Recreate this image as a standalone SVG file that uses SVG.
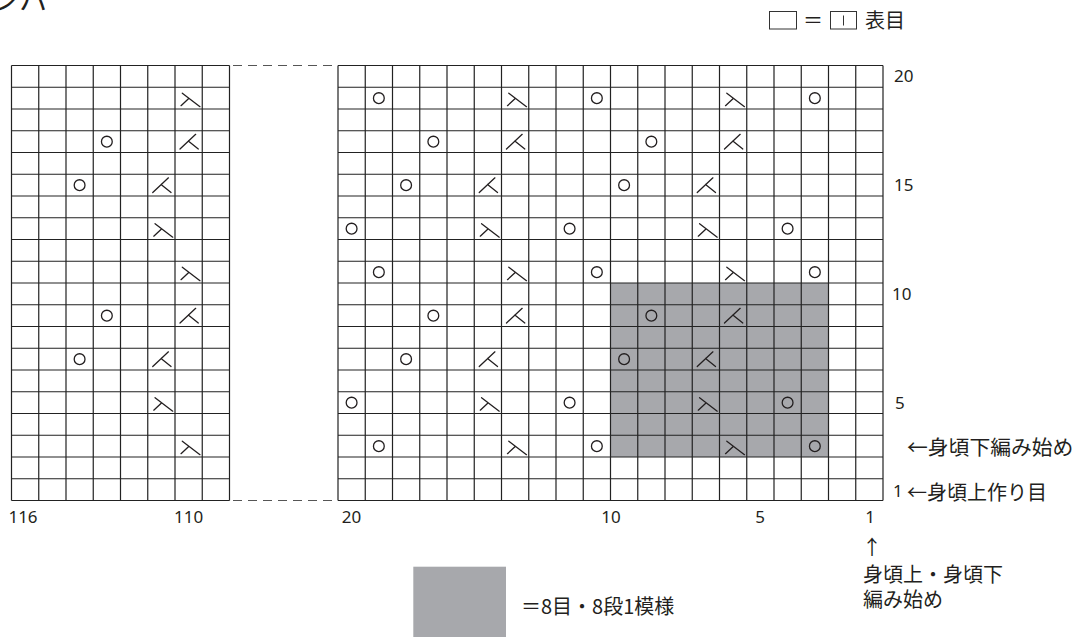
<svg xmlns="http://www.w3.org/2000/svg" width="1077" height="637" viewBox="0 0 1077 637">
<style>
.grid{stroke:#222;stroke-width:1.2;fill:none}
.sym{stroke:#231f20;stroke-width:1.3;fill:none;stroke-linecap:round}
.dash{stroke:#555;stroke-width:1.1;stroke-dasharray:9 6;fill:none}
.num{font-family:"Noto Sans","Liberation Sans",sans-serif;font-size:17px;fill:#231f20}
.jp{font-family:"Noto Sans CJK JP","Noto Sans",sans-serif;font-size:20px;fill:#231f20}
</style>
<defs>
<path id="A" class="sym" d="M7.3,6 L25,19.4 M6,18.4 L14,11.1"/>
<path id="B" class="sym" d="M20.7,3.6 L5,18.2 M13.3,10.3 L23.3,18.2"/>
</defs>
<rect width="1077" height="637" fill="#fff"/>
<text class="jp" x="-9" y="11" style="font-size:28px">ンハ</text>

<g id="legend-top">
<rect x="769.5" y="11.5" width="27" height="17.5" fill="none" stroke="#333" stroke-width="1"/>
<text class="jp" x="813" y="28" text-anchor="middle">＝</text>
<rect x="830.5" y="11.5" width="26" height="17.5" fill="none" stroke="#333" stroke-width="1"/>
<line x1="843.5" y1="15.5" x2="843.5" y2="25.5" stroke="#333" stroke-width="1"/>
<text class="jp" x="865" y="28">表目</text>
</g>

<g id="shade">
<rect x="610.5" y="283" width="218" height="174" fill="#a7a8ac"/>
</g>

<g id="chart-left">
<path class="grid" d="M11.5,65.5H229.5M11.5,87.25H229.5M11.5,109H229.5M11.5,130.75H229.5M11.5,152.5H229.5M11.5,174.25H229.5M11.5,196H229.5M11.5,217.75H229.5M11.5,239.5H229.5M11.5,261.25H229.5M11.5,283H229.5M11.5,304.75H229.5M11.5,326.5H229.5M11.5,348.25H229.5M11.5,370H229.5M11.5,391.75H229.5M11.5,413.5H229.5M11.5,435.25H229.5M11.5,457H229.5M11.5,478.75H229.5M11.5,500.5H229.5
M11.5,65.5V500.5M38.75,65.5V500.5M66,65.5V500.5M93.25,65.5V500.5M120.5,65.5V500.5M147.75,65.5V500.5M175,65.5V500.5M202.25,65.5V500.5M229.5,65.5V500.5"/>
<use href="#A" x="175" y="87.25"/>
<circle class="sym" cx="106.85" cy="141.65" r="5.4"/><use href="#B" x="175" y="130.75"/>
<circle class="sym" cx="79.6" cy="185.15" r="5.4"/><use href="#B" x="147.75" y="174.25"/>
<use href="#A" x="147.75" y="217.75"/>
<use href="#A" x="175" y="261.25"/>
<circle class="sym" cx="106.85" cy="315.65" r="5.4"/><use href="#B" x="175" y="304.75"/>
<circle class="sym" cx="79.6" cy="359.15" r="5.4"/><use href="#B" x="147.75" y="348.25"/>
<use href="#A" x="147.75" y="391.75"/>
<use href="#A" x="175" y="435.25"/>
</g>

<g id="connectors">
<line class="dash" x1="233" y1="65.5" x2="338" y2="65.5"/>
<line class="dash" x1="233" y1="500.5" x2="338" y2="500.5"/>
</g>

<g id="chart-right">
<path class="grid" d="M338,65.5H883M338,87.25H883M338,109H883M338,130.75H883M338,152.5H883M338,174.25H883M338,196H883M338,217.75H883M338,239.5H883M338,261.25H883M338,283H883M338,304.75H883M338,326.5H883M338,348.25H883M338,370H883M338,391.75H883M338,413.5H883M338,435.25H883M338,457H883M338,478.75H883M338,500.5H883
M338,65.5V500.5M365.25,65.5V500.5M392.5,65.5V500.5M419.75,65.5V500.5M447,65.5V500.5M474.25,65.5V500.5M501.5,65.5V500.5M528.75,65.5V500.5M556,65.5V500.5M583.25,65.5V500.5M610.5,65.5V500.5M637.75,65.5V500.5M665,65.5V500.5M692.25,65.5V500.5M719.5,65.5V500.5M746.75,65.5V500.5M774,65.5V500.5M801.25,65.5V500.5M828.5,65.5V500.5M855.75,65.5V500.5M883,65.5V500.5"/>
<circle class="sym" cx="378.85" cy="98.15" r="5.4"/><circle class="sym" cx="596.85" cy="98.15" r="5.4"/><circle class="sym" cx="814.85" cy="98.15" r="5.4"/>
<use href="#A" x="501.5" y="87.25"/><use href="#A" x="719.5" y="87.25"/>
<circle class="sym" cx="433.35" cy="141.65" r="5.4"/><circle class="sym" cx="651.35" cy="141.65" r="5.4"/>
<use href="#B" x="501.5" y="130.75"/><use href="#B" x="719.5" y="130.75"/>
<circle class="sym" cx="406.1" cy="185.15" r="5.4"/><circle class="sym" cx="624.1" cy="185.15" r="5.4"/>
<use href="#B" x="474.25" y="174.25"/><use href="#B" x="692.25" y="174.25"/>
<circle class="sym" cx="351.6" cy="228.65" r="5.4"/><circle class="sym" cx="569.6" cy="228.65" r="5.4"/><circle class="sym" cx="787.6" cy="228.65" r="5.4"/>
<use href="#A" x="474.25" y="217.75"/><use href="#A" x="692.25" y="217.75"/>
<circle class="sym" cx="378.85" cy="272.15" r="5.4"/><circle class="sym" cx="596.85" cy="272.15" r="5.4"/><circle class="sym" cx="814.85" cy="272.15" r="5.4"/>
<use href="#A" x="501.5" y="261.25"/><use href="#A" x="719.5" y="261.25"/>
<circle class="sym" cx="433.35" cy="315.65" r="5.4"/><circle class="sym" cx="651.35" cy="315.65" r="5.4"/>
<use href="#B" x="501.5" y="304.75"/><use href="#B" x="719.5" y="304.75"/>
<circle class="sym" cx="406.1" cy="359.15" r="5.4"/><circle class="sym" cx="624.1" cy="359.15" r="5.4"/>
<use href="#B" x="474.25" y="348.25"/><use href="#B" x="692.25" y="348.25"/>
<circle class="sym" cx="351.6" cy="402.65" r="5.4"/><circle class="sym" cx="569.6" cy="402.65" r="5.4"/><circle class="sym" cx="787.6" cy="402.65" r="5.4"/>
<use href="#A" x="474.25" y="391.75"/><use href="#A" x="692.25" y="391.75"/>
<circle class="sym" cx="378.85" cy="446.15" r="5.4"/><circle class="sym" cx="596.85" cy="446.15" r="5.4"/><circle class="sym" cx="814.85" cy="446.15" r="5.4"/>
<use href="#A" x="501.5" y="435.25"/><use href="#A" x="719.5" y="435.25"/>
</g>

<g id="row-labels">
<text class="num" x="894" y="82">20</text>
<text class="num" x="894" y="191">15</text>
<text class="num" x="892" y="300">10</text>
<text class="num" x="895" y="409">5</text>
<text class="num" x="893" y="497">1</text>
<text class="jp" x="907" y="455" style="font-size:20.8px">←身頃下編み始め</text>
<text class="jp" x="907" y="500">←身頃上作り目</text>
</g>

<g id="col-labels">
<text class="num" x="23" y="523" text-anchor="middle">116</text>
<text class="num" x="188.6" y="523" text-anchor="middle">110</text>
<text class="num" x="351.6" y="523" text-anchor="middle">20</text>
<text class="num" x="611" y="523" text-anchor="middle">10</text>
<text class="num" x="760" y="523" text-anchor="middle">5</text>
<text class="num" x="870" y="523" text-anchor="middle">1</text>
<text class="jp" x="872" y="555" text-anchor="middle">↑</text>
<text class="jp" x="863" y="582">身頃上・身頃下</text>
<text class="jp" x="863" y="607">編み始め</text>
</g>

<g id="legend-bottom">
<rect x="413.3" y="566.7" width="92.7" height="70.3" fill="#a7a8ac"/>
<text class="jp" x="521" y="614">＝8目・8段1模様</text>
</g>
</svg>
